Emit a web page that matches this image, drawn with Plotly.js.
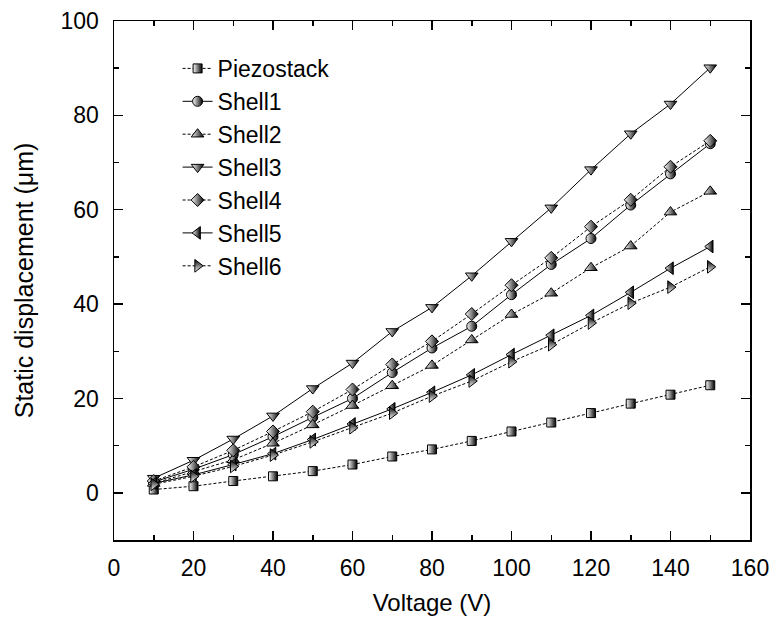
<!DOCTYPE html>
<html>
<head>
<meta charset="utf-8">
<script src="https://cdn.plot.ly/plotly-3.0.1.min.js"></script>
<style>html,body{margin:0;padding:0;background:#fff;}#chart{width:776px;height:627px;}</style>
</head>
<body>
<div id="chart"></div>
<script>
const voltage = [10, 20, 30, 40, 50, 60, 70, 80, 90, 100, 110, 120, 130, 140, 150];
const piezostack = [0.7, 1.4, 2.5, 3.5, 4.6, 6.0, 7.7, 9.2, 11.0, 13.0, 14.9, 16.9, 18.9, 20.8, 22.8];
const shell1 = [2.3, 5.0, 8.1, 11.9, 16.0, 20.0, 25.5, 30.7, 35.3, 42.0, 48.4, 53.9, 61.0, 67.6, 74.0];
const shell2 = [2.0, 4.5, 7.0, 10.5, 14.4, 18.5, 22.7, 27.0, 32.4, 37.8, 42.3, 47.7, 52.3, 59.5, 63.9];
const shell3 = [3.1, 6.9, 11.4, 16.3, 22.1, 27.5, 34.2, 39.3, 46.0, 53.3, 60.4, 68.5, 76.1, 82.4, 90.1];
const shell4 = [2.5, 5.5, 9.0, 13.0, 17.2, 21.9, 27.2, 32.1, 37.9, 44.0, 49.8, 56.4, 62.1, 69.1, 74.6];
const shell5 = [2.0, 3.8, 6.0, 8.3, 11.3, 14.6, 17.8, 21.3, 25.0, 29.3, 33.4, 37.6, 42.5, 47.6, 52.2];
const shell6 = [1.8, 3.5, 5.6, 8.0, 10.8, 13.8, 16.9, 20.5, 23.7, 27.8, 31.4, 36.0, 40.2, 43.6, 47.9];
const seriesNames = ['Piezostack', 'Shell1', 'Shell2', 'Shell3', 'Shell4', 'Shell5', 'Shell6'];
const seriesValues = [piezostack, shell1, shell2, shell3, shell4, shell5, shell6];
const xTicks = [0, 20, 40, 60, 80, 100, 120, 140, 160];
const yTicks = [0, 20, 40, 60, 80, 100];

const styles = [
  {symbol: 'square', dash: '3px,2px', size: 9, grad: 'horizontal', fill: '#fff', gc: '#000'},
  {symbol: 'circle', dash: 'solid', size: 10, grad: 'horizontal', fill: '#fff', gc: '#000'},
  {symbol: 'triangle-up', dash: '3px,2px', size: 11, grad: 'horizontal', fill: '#fff', gc: '#000'},
  {symbol: 'triangle-down', dash: 'solid', size: 11, grad: 'horizontal', fill: '#fff', gc: '#000'},
  {symbol: 'diamond', dash: '3px,2px', size: 10, grad: 'horizontal', fill: '#fff', gc: '#000'},
  {symbol: 'triangle-left', dash: 'solid', size: 11, grad: 'horizontal', fill: '#fff', gc: '#000'},
  {symbol: 'triangle-right', dash: '3px,2px', size: 11, grad: 'vertical', fill: '#000', gc: '#fff'}
];

const traces = seriesNames.map((name, i) => ({
  x: voltage,
  y: seriesValues[i],
  name: name,
  legendgroup: name,
  type: 'scatter',
  mode: 'lines+markers',
  line: {color: '#000', width: 1, dash: styles[i].dash},
  marker: {
    symbol: styles[i].symbol,
    size: styles[i].size,
    color: styles[i].fill,
    gradient: {type: styles[i].grad, color: styles[i].gc},
    line: {color: '#000', width: 1}
  }
}));

const font = {family: 'Liberation Sans, Arial, sans-serif', color: '#000'};

const layout = {
  width: 776,
  height: 627,
  paper_bgcolor: '#fff',
  plot_bgcolor: '#fff',
  margin: {l: 114, r: 26, t: 21, b: 87},
  font: Object.assign({size: 23}, font),
  showlegend: true,
  legend: {
    x: 0.1, y: 0.95, xanchor: 'left', yanchor: 'top',
    bgcolor: 'rgba(0,0,0,0)',
    font: Object.assign({size: 23}, font),
    tracegroupgap: 0,
    itemwidth: 30
  },
  xaxis: {
    range: [0, 160],
    tickvals: xTicks,
    ticktext: xTicks.map(String),
    ticks: 'inside', ticklen: 9, tickwidth: 1.5, tickcolor: '#000',
    minor: {dtick: 10, tick0: 0, ticks: 'inside', ticklen: 5, tickwidth: 1.5, tickcolor: '#000', showgrid: false},
    showline: true, linecolor: '#000', linewidth: 1.5, mirror: 'ticks',
    showgrid: false, zeroline: false,
    tickfont: Object.assign({size: 23}, font),
    ticklabelstandoff: 7,
    title: {text: 'Voltage (V)', font: Object.assign({size: 24}, font), standoff: 14}
  },
  yaxis: {
    range: [-10, 100],
    tickvals: yTicks,
    ticktext: yTicks.map(String),
    ticks: 'inside', ticklen: 9, tickwidth: 1.5, tickcolor: '#000',
    minor: {dtick: 10, tick0: 0, ticks: 'inside', ticklen: 5, tickwidth: 1.5, tickcolor: '#000', showgrid: false},
    showline: true, linecolor: '#000', linewidth: 1.5, mirror: 'ticks',
    showgrid: false, zeroline: false,
    tickfont: Object.assign({size: 23}, font),
    ticklabelstandoff: 9,
    title: {text: 'Static displacement (\u03bcm)', font: Object.assign({size: 25}, font), standoff: 20}
  }
};

Plotly.newPlot('chart', traces, layout, {staticPlot: true, displayModeBar: false});
</script>
</body>
</html>
